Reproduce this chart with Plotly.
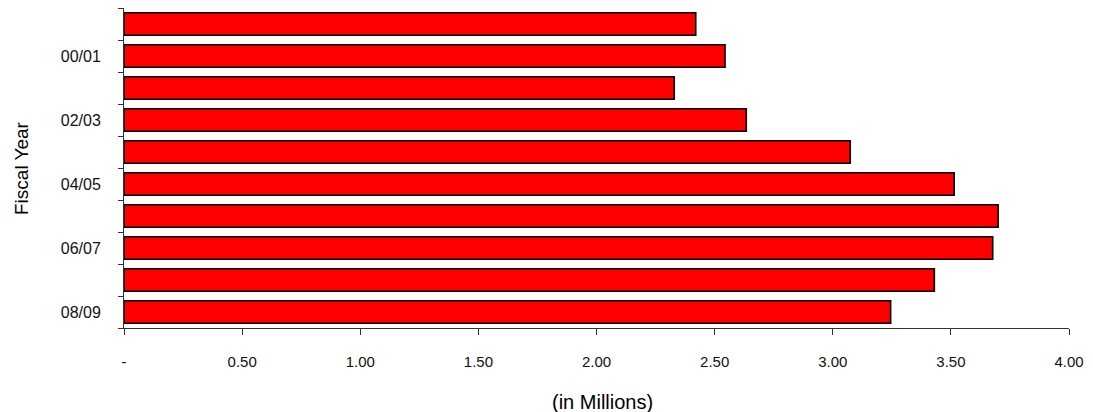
import plotly.graph_objects as go

categories = ["99/00", "00/01", "01/02", "02/03", "03/04", "04/05", "05/06", "06/07", "07/08", "08/09"]
values = [2.42, 2.544, 2.329, 2.634, 3.074, 3.514, 3.70, 3.677, 3.43, 3.245]
y_tick_text = ["", "00/01", "", "02/03", "", "04/05", "", "06/07", "", "08/09"]
x_tick_vals = [0, 0.5, 1.0, 1.5, 2.0, 2.5, 3.0, 3.5, 4.0]
x_tick_text = ["-", "0.50", "1.00", "1.50", "2.00", "2.50", "3.00", "3.50", "4.00"]

FONT = "Liberation Sans, Arial, sans-serif"

fig = go.Figure(
    go.Bar(
        x=values,
        y=categories,
        orientation="h",
        marker=dict(color="#FF0000", line=dict(color="#000000", width=1.6)),
        hoverinfo="x+y",
    )
)

# page body adds an 8px margin; figure is sized to fit the 1093x412 window
fig.update_layout(
    width=1085,
    height=404,
    margin=dict(l=116, r=24, t=0, b=84, pad=0),
    paper_bgcolor="white",
    plot_bgcolor="white",
    bargap=0.3,
    showlegend=False,
    font=dict(family=FONT, size=15, color="#111111"),
)

fig.update_xaxes(
    range=[0, 4],
    tickvals=x_tick_vals,
    ticktext=x_tick_text,
    ticks="outside",
    ticklen=6,
    tickcolor="#333333",
    showline=True,
    linecolor="#333333",
    linewidth=1,
    showgrid=False,
    zeroline=False,
    ticklabelstandoff=14,
    tickfont=dict(family=FONT, size=15, color="#111111"),
)

fig.update_yaxes(
    type="category",
    categoryorder="array",
    categoryarray=categories,
    autorange="reversed",
    tickvals=categories,
    ticktext=y_tick_text,
    tickson="boundaries",
    ticks="outside",
    ticklen=5,
    tickcolor="#333333",
    showline=True,
    linecolor="#333333",
    linewidth=1,
    showgrid=False,
    zeroline=False,
    ticklabelstandoff=19,
    tickfont=dict(family=FONT, size=16, color="#111111"),
)

fig.add_annotation(
    text="(in Millions)",
    xref="paper", yref="paper",
    x=0.506, y=0, yshift=-74,
    xanchor="center", yanchor="middle",
    showarrow=False,
    font=dict(family=FONT, size=20, color="#000000"),
)
fig.add_annotation(
    text="Fiscal Year",
    xref="paper", yref="paper",
    x=0, y=0.5, xshift=-103,
    xanchor="center", yanchor="middle",
    textangle=-90,
    showarrow=False,
    font=dict(family=FONT, size=19, color="#000000"),
)

fig.write_html("out.html")
